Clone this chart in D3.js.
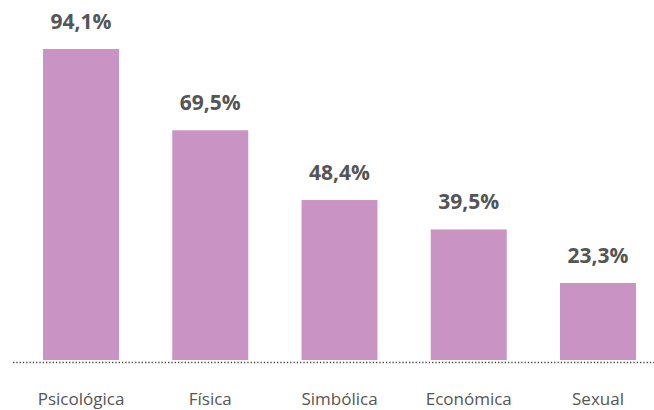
<!DOCTYPE html>
<html>
<head>
<meta charset="utf-8">
<script src="https://cdn.jsdelivr.net/npm/d3@7"></script>
<style>
  html, body { margin: 0; padding: 0; background: #ffffff; }
  svg { display: block; }
</style>
</head>
<body>
<svg id="chart" width="654" height="410"></svg>
<script>
const categories = ["Psicológica", "Física", "Simbólica", "Económica", "Sexual"];
const values = [94.1, 69.5, 48.4, 39.5, 23.3];
const valueLabels = ["94,1%", "69,5%", "48,4%", "39,5%", "23,3%"];

const svg = d3.select("#chart");
const baseline = 360;

const x = d3.scaleBand()
  .domain(categories)
  .range([16.4, 662.6])
  .paddingInner(0.412)
  .paddingOuter(0.206);

const y = d3.scaleLinear()
  .domain([0, 100])
  .range([baseline, baseline - 330.5]);

const data = categories.map((c, i) => ({ c, v: values[i], label: valueLabels[i] }));

svg.selectAll("rect.bar")
  .data(data)
  .join("rect")
  .attr("class", "bar")
  .attr("x", d => x(d.c))
  .attr("y", d => y(d.v))
  .attr("width", x.bandwidth())
  .attr("height", d => y(0) - y(d.v))
  .attr("fill", "#c994c4");

svg.append("line")
  .attr("x1", 13).attr("x2", 654)
  .attr("y1", 362.5).attr("y2", 362.5)
  .attr("stroke", "#444")
  .attr("stroke-width", 1.3)
  .attr("stroke-dasharray", "1.3,2");

svg.selectAll("text.val")
  .data(data)
  .join("text")
  .attr("class", "val")
  .attr("x", d => x(d.c) + x.bandwidth() / 2)
  .attr("y", d => y(d.v) - 20)
  .attr("text-anchor", "middle")
  .attr("font-family", "'Open Sans', sans-serif")
  .attr("font-weight", 700)
  .attr("font-size", 21)
  .attr("fill", "#555555")
  .text(d => d.label);

const xAxis = d3.axisBottom(x).tickSize(0).tickPadding(0);
const gx = svg.append("g")
  .attr("transform", `translate(0, ${baseline})`)
  .call(xAxis);
gx.select(".domain").remove();
gx.selectAll("text")
  .attr("dy", null)
  .attr("y", 45)
  .attr("font-family", "'Open Sans', sans-serif")
  .attr("font-size", 17)
  .attr("fill", "#555555");
</script>
</body>
</html>
